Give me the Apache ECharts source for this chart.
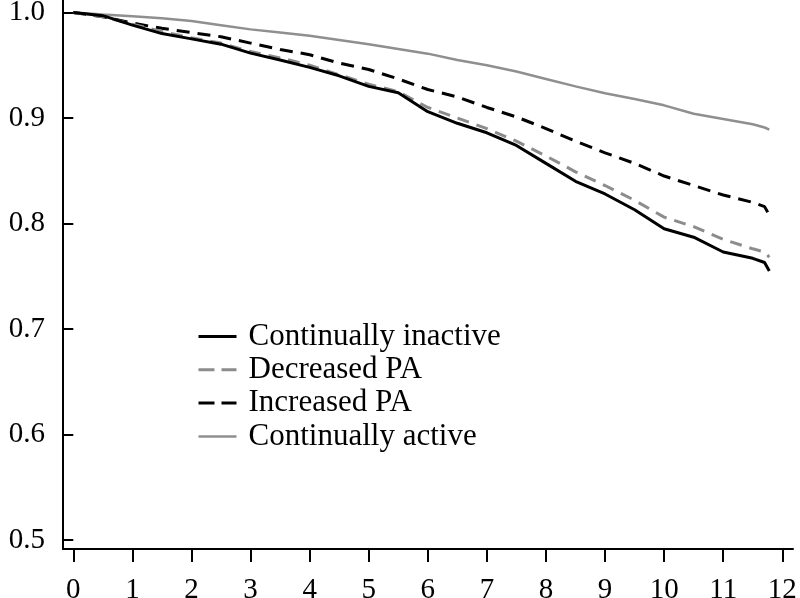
<!DOCTYPE html>
<html>
<head>
<meta charset="utf-8">
<script src="https://cdn.jsdelivr.net/npm/echarts@6/dist/echarts.min.js"></script>
<style>
html,body{margin:0;padding:0;background:#fff;}
#chart{width:800px;height:598px;}
</style>
</head>
<body>
<div id="chart"></div>
<script>
const seriesNames = ['Continually inactive', 'Decreased PA', 'Increased PA', 'Continually active'];
const years = [0,0.5,1,1.5,2,2.5,3,3.5,4,4.5,5,5.5,6,6.5,7,7.5,8,8.5,9,9.5,10,10.5,11,11.5,11.7,11.78];
const inactive = [1.0,0.997,0.988,0.980,0.975,0.970,0.9615,0.955,0.948,0.940,0.930,0.924,0.906,0.895,0.886,0.874,0.857,0.840,0.828,0.813,0.795,0.787,0.773,0.767,0.763,0.755];
const decreased = [1.0,0.996,0.989,0.982,0.976,0.971,0.963,0.957,0.950,0.941,0.932,0.925,0.910,0.900,0.890,0.878,0.864,0.849,0.836,0.822,0.806,0.797,0.785,0.776,0.773,0.768];
const increased = [1.0,0.996,0.990,0.985,0.981,0.977,0.971,0.965,0.960,0.952,0.946,0.937,0.927,0.920,0.910,0.901,0.890,0.878,0.867,0.857,0.845,0.836,0.827,0.820,0.816,0.808];
const active = [1.0,0.998,0.9965,0.9945,0.992,0.988,0.984,0.981,0.978,0.974,0.970,0.9655,0.961,0.955,0.950,0.944,0.937,0.930,0.9235,0.918,0.912,0.904,0.899,0.894,0.891,0.889];
const xTicks = [0,1,2,3,4,5,6,7,8,9,10,11,12];
const yTicks = [0.5,0.6,0.7,0.8,0.9,1.0];

const FONT = 'Liberation Serif';
const pair = (vals) => years.map((t, i) => [t, vals[i]]);

const styles = [
  {color:'#000000', width:3, type:'solid', legendType:'solid'},
  {color:'#8c8c8c', width:3, type:[12,8], legendType:[16,7]},
  {color:'#000000', width:3, type:[13,8], legendType:[16,7]},
  {color:'#8f8f8f', width:2.5, type:'solid', legendType:'solid'}
];
const dataSets = [inactive, decreased, increased, active];

const chart = echarts.init(document.getElementById('chart'), null, {renderer:'canvas'});
chart.setOption({
  animation: false,
  backgroundColor: '#ffffff',
  grid: [
    {left: 73.3, right: 17.7, top: 12.5, bottom: 58, containLabel: false, outerBoundsMode: 'none'},
    {left: 63, right: 7, top: 0, bottom: 49, containLabel: false, outerBoundsMode: 'none'}
  ],
  legend: {
    orient: 'vertical',
    left: 197, top: 321,
    padding: 0,
    itemWidth: 38, itemHeight: 14, itemGap: 2.3,
    textStyle: {fontFamily: FONT, fontSize: 31, color: '#000', lineHeight: 30, padding: [0,0,0,7]},
    data: seriesNames.map((n, i) => ({
      name: n,
      itemStyle: {opacity: 0},
      lineStyle: {width: styles[i].width, type: styles[i].legendType, color: styles[i].color, opacity: 1}
    }))
  },
  xAxis: [
    {
      type: 'value', gridIndex: 0, min: 0, max: 12, interval: 1, offset: 9,
      axisLine: {show: false},
      axisTick: {show: true, length: 13, lineStyle: {color: '#000', width: 2}},
      axisLabel: {fontFamily: FONT, fontSize: 29, color: '#000', margin: 27,
        formatter: v => xTicks.includes(v) ? String(v) : ''},
      splitLine: {show: false}
    },
    {
      type: 'value', gridIndex: 1, min: 0, max: 1,
      axisLine: {show: true, onZero: false, lineStyle: {color: '#000', width: 2}},
      axisTick: {show: false}, axisLabel: {show: false}, splitLine: {show: false}
    }
  ],
  yAxis: [
    {
      type: 'value', gridIndex: 0, min: 0.5, max: 1.0, interval: 0.1, offset: 10.3,
      axisLine: {show: false},
      axisTick: {show: true, length: 11, lineStyle: {color: '#000', width: 2}},
      axisLabel: {fontFamily: FONT, fontSize: 29, color: '#000', margin: 18,
        formatter: v => yTicks.some(t => Math.abs(t - v) < 1e-6) ? v.toFixed(1) : ''},
      splitLine: {show: false}
    },
    {
      type: 'value', gridIndex: 1, min: 0, max: 1,
      axisLine: {show: true, onZero: false, lineStyle: {color: '#000', width: 2}},
      axisTick: {show: false}, axisLabel: {show: false}, splitLine: {show: false}
    }
  ],
  series: seriesNames.map((n, i) => ({
    name: n, type: 'line', xAxisIndex: 0, yAxisIndex: 0,
    showSymbol: false, symbol: 'none',
    data: pair(dataSets[i]),
    color: styles[i].color,
    lineStyle: {color: styles[i].color, width: styles[i].width, type: styles[i].type},
    z: 4 - i
  }))
});
</script>
</body>
</html>
